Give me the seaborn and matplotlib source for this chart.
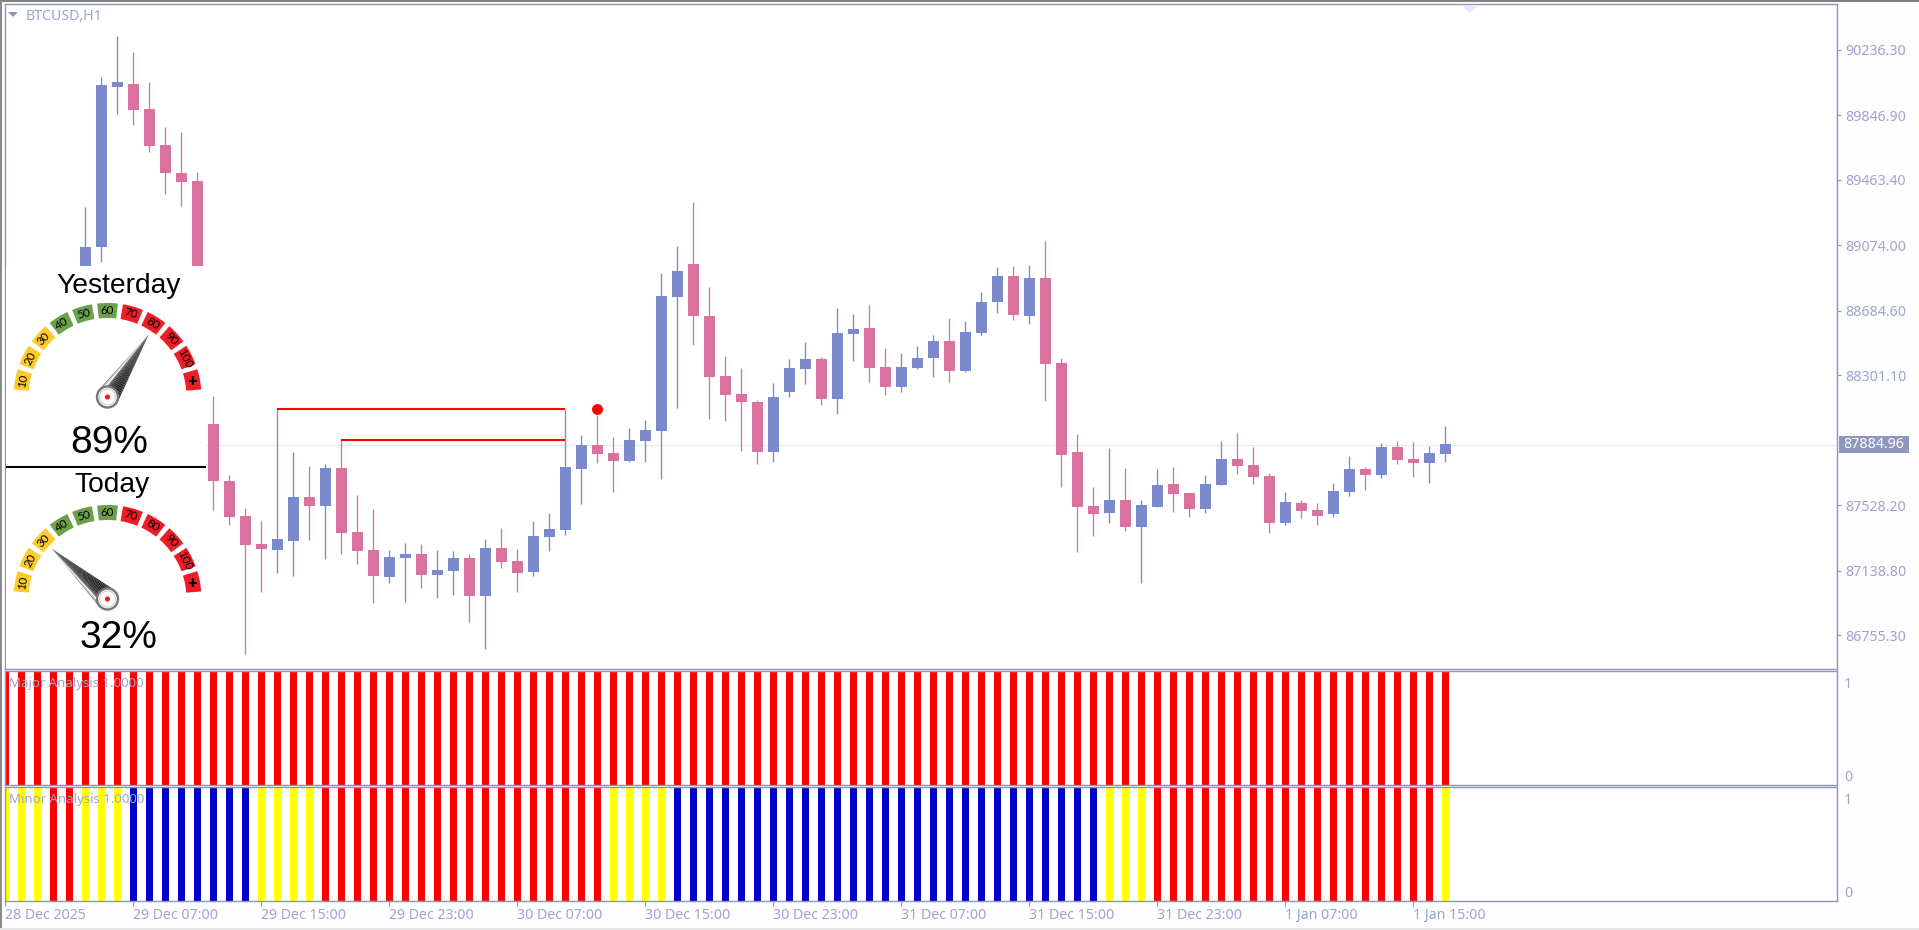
import numpy as np
import pandas as pd
import seaborn as sns
import matplotlib.pyplot as plt
from matplotlib.patches import Polygon, Circle, Rectangle

# Chart values (np.nan = hidden behind the gauge panel)
bar_index = list(range(91))
open_ = [87321, np.nan, np.nan, np.nan, np.nan, 88838, 89064, 90016, 90034, 89885,
         89671, 89505, 89457, 88011, 87672, 87464, 87297, 87261, 87315, 87577,
         87523, 87749, 87369, 87261, 87101, 87214, 87238, 87113, 87137, 87214,
         86988, 87273, 87196, 87131, 87339, 87380, 87743, 87886, 87839, 87791,
         87910, 87970, 88767, 88963, 88654, 88297, 88190, 88142, 87845, 88202,
         88338, 88398, 88160, 88547, 88582, 88350, 88231, 88344, 88404, 88505,
         88327, 88553, 88737, 88892, 88654, 88880, 88374, 87845, 87523, 87482,
         87559, 87398, 87517, 87654, 87601, 87505, 87648, 87803, 87767, 87702,
         87422, 87541, 87499, 87476, 87607, 87743, 87708, 87874, 87803, 87779,
         87833]
high = [87541, np.nan, np.nan, np.nan, np.nan, 89302, 90076, 90320, 90225, 90046,
        89778, 89749, 89511, 88178, 87708, 87511, 87434, 88100, 87845, 87761,
        87773, 87916, 87589, 87505, 87261, 87303, 87297, 87261, 87256, 87238,
        87327, 87392, 87267, 87434, 87482, 88100, 87946, 88065, 87934, 87987,
        88035, 88910, 89070, 89332, 88826, 88416, 88344, 88154, 88255, 88398,
        88499, 88410, 88701, 88666, 88719, 88463, 88434, 88475, 88541, 88642,
        88624, 88797, 88945, 88951, 88957, 89100, 88404, 87952, 87636, 87868,
        87749, 87559, 87743, 87755, 87601, 87708, 87910, 87958, 87874, 87720,
        87607, 87559, 87541, 87660, 87821, 87755, 87898, 87910, 87904, 87880,
        87999]
low = [87321, np.nan, np.nan, np.nan, np.nan, 88779, 88975, 89856, 89790, 89630,
       89380, 89308, 87975, 87499, 87410, 86643, 87012, 87125, 87107, 87321,
       87208, 87238, 87178, 86946, 87065, 86952, 87035, 86976, 86994, 86833,
       86672, 87154, 87012, 87107, 87256, 87351, 87535, 87779, 87607, 87785,
       87785, 87684, 88106, 88481, 88041, 88029, 87851, 87773, 87785, 88172,
       88249, 88124, 88071, 88386, 88261, 88184, 88202, 88338, 88291, 88261,
       88321, 88541, 88672, 88630, 88606, 88148, 87636, 87250, 87345, 87422,
       87375, 87065, 87517, 87488, 87458, 87482, 87648, 87714, 87654, 87363,
       87410, 87452, 87410, 87458, 87583, 87618, 87690, 87773, 87696, 87660,
       87785]
close = [87541, np.nan, np.nan, np.nan, np.nan, 89064, 90028, 90046, 89879, 89665,
         89505, 89451, 88011, 87672, 87458, 87291, 87267, 87327, 87577, 87523,
         87749, 87363, 87256, 87107, 87220, 87238, 87113, 87142, 87214, 86988,
         87273, 87190, 87125, 87345, 87386, 87755, 87886, 87833, 87791, 87916,
         87975, 88773, 88922, 88654, 88291, 88184, 88142, 87845, 88172, 88344,
         88398, 88160, 88553, 88576, 88344, 88231, 88350, 88404, 88505, 88327,
         88559, 88737, 88892, 88660, 88880, 88368, 87827, 87517, 87476, 87559,
         87398, 87529, 87648, 87595, 87505, 87654, 87803, 87761, 87696, 87422,
         87547, 87494, 87464, 87613, 87743, 87708, 87874, 87797, 87779, 87839,
         87892]

level_prices = [88100, 87916]
level_start = [17, 21]
level_end = 35
signal_bar = 37
signal_price = 88100
last_price = 87884.96

price_ticks = [90236.30, 89846.90, 89463.40, 89074.00, 88684.60, 88301.10,
               87528.20, 87138.80, 86755.30]
time_ticks = [0, 8, 16, 24, 32, 40, 48, 56, 64, 72, 80, 88]
time_labels = ['28 Dec 2025', '29 Dec 07:00', '29 Dec 15:00', '29 Dec 23:00',
               '30 Dec 07:00', '30 Dec 15:00', '30 Dec 23:00', '31 Dec 07:00',
               '31 Dec 15:00', '31 Dec 23:00', '1 Jan 07:00', '1 Jan 15:00']

major_state = ['red'] * 91
minor_state = (['yellow'] * 3 + ['red'] * 2 + ['yellow'] * 3 + ['blue'] * 8
               + ['yellow'] * 4 + ['red'] * 18 + ['yellow'] * 4 + ['blue'] * 27
               + ['yellow'] * 3 + ['red'] * 18 + ['yellow'])

gauge_labels = ['10', '20', '30', '40', '50', '60', '70', '80', '90', '100', '+']
gauge_titles = ['Yesterday', 'Today']
gauge_values = ['89%', '32%']
needle_angles = [56.6, 137.9]

W, H = 1919, 930
FRAME = '#8f95b8'
TEXT = '#9ca4d0'
UP = '#7b8acc'
DOWN = '#d9729f'
state_colors = {'red': '#ff0000', 'yellow': '#ffff00', 'blue': '#0000cc'}
seg_colors = ['#fdcb2e'] * 3 + ['#6da04b'] * 3 + ['#ee1c25'] * 5

sns.set_theme(style='white')
plt.rcParams['font.family'] = ['Noto Sans', 'DejaVu Sans']


def px_axes(fig, left, top, right, bottom):
    return fig.add_axes([left / W, 1 - bottom / H, (right - left) / W, (bottom - top) / H])


def style_frame(ax):
    for s in ax.spines.values():
        s.set_color(FRAME)
        s.set_linewidth(1.0)


fig = plt.figure(figsize=(W / 100, H / 100), dpi=100, facecolor='#fefefe')
ax = px_axes(fig, 4.5, 4.5, 1837, 668.5)
ax_major = px_axes(fig, 4.5, 671, 1837, 785)
ax_minor = px_axes(fig, 4.5, 787, 1837, 901)
xlim = (-0.05, 114.47)

# Candles
df = pd.DataFrame({'bar': bar_index, 'open': open_, 'high': high, 'low': low, 'close': close}).dropna()
df['body'] = (df['close'] - df['open']).abs()
df['body_low'] = df[['open', 'close']].min(axis=1)
df['up'] = df['close'] >= df['open']

ax.axhline(last_price, color='#e8e9f3', lw=0.9, zorder=0)
for is_up, color in [(True, UP), (False, DOWN)]:
    part = df[df['up'] == is_up]
    ax.vlines(part['bar'], part['low'], part['high'], color=color, lw=0.95, zorder=1)
    sns.barplot(data=part, x='bar', y='body', bottom=part['body_low'].values, native_scale=True,
                width=11 / 16, color=color, saturation=1, errorbar=None, linewidth=0,
                zorder=2, ax=ax)

for price, start in zip(level_prices, level_start):
    ax.hlines(price, start, level_end, color='#ff0000', lw=1.5, zorder=3)
sns.scatterplot(x=[signal_bar], y=[signal_price], color='#ff0000', s=62, linewidth=0, zorder=4, ax=ax)

ax.set_xlim(xlim)
ax.set_ylim(86556, 90507)
ax.set_xlabel('')
ax.set_ylabel('')
ax.set_xticks([])
ax.yaxis.tick_right()
ax.set_yticks(price_ticks)
ax.set_yticklabels([f'{p:.2f}' for p in price_ticks])
ax.tick_params(axis='y', length=3, width=0.8, color=FRAME, labelcolor=TEXT, labelsize=10.2, pad=3, right=True)
style_frame(ax)

# Indicator windows
for a, state, name in [(ax_major, major_state, 'Major Analysis 1.0000'),
                       (ax_minor, minor_state, 'Minor Analysis 1.0000')]:
    sns.barplot(x=bar_index, y=[1] * len(bar_index), hue=state, palette=state_colors, native_scale=True,
                dodge=False, width=7 / 16, saturation=1, errorbar=None, linewidth=0, legend=False, ax=a)
    a.set_xlim(xlim)
    a.set_ylim(0, 1)
    a.set_xlabel('')
    a.set_ylabel('')
    a.yaxis.tick_right()
    a.set_yticks([0.08, 0.9])
    a.set_yticklabels(['0', '1'])
    a.tick_params(axis='y', length=0, labelcolor=TEXT, labelsize=10.2, pad=5, right=False)
    a.text(4.5 / 1832, 0.886, name, transform=a.transAxes, color=TEXT, fontsize=9.5, ha='left', va='center', zorder=6)
    style_frame(a)
ax_major.set_xticks([])
ax_minor.set_xticks(time_ticks)
ax_minor.set_xticklabels(time_labels, ha='left')
ax_minor.tick_params(axis='x', length=3.5, width=0.8, color=FRAME, labelcolor=TEXT, labelsize=10.2, pad=1.5, bottom=True)

# Overlay in screen pixels: window edge, title, gauge panel
hud = fig.add_axes([0, 0, 1, 1], facecolor='none', zorder=10)
hud.set_xlim(0, W)
hud.set_ylim(H, 0)
hud.axis('off')

hud.add_patch(Rectangle((0, 0), W, 2, color='#808080', lw=0))
hud.add_patch(Rectangle((0, 0), 2, H, color='#8a8a8a', lw=0))
hud.add_patch(Rectangle((0, 928), W, 2, color='#e6e6e6', lw=0))
hud.add_patch(Polygon([(1462, 5.5), (1478, 5.5), (1470, 13)], color='#e6e8f8', lw=0))
hud.add_patch(Polygon([(8, 12), (18, 12), (13, 17)], color='#8f95b8', lw=0))
hud.text(26, 16.5, 'BTCUSD,H1', color=TEXT, fontsize=10.2, ha='left', va='center')

hud.add_patch(Rectangle((1839, 436), 70, 17, color='#8f97bd', lw=0))
hud.text(1874, 444.5, f'{last_price:.2f}', color='white', fontsize=10.2, ha='center', va='center')

hud.add_patch(Rectangle((6, 266), 200, 402, color='white', lw=0))
hud.plot([6, 206], [466.7, 466.7], color='black', lw=1.5, solid_capstyle='butt')


def draw_gauge(cy, needle_angle):
    cx = 107.5
    step = 174 / 11
    for k, label in enumerate(gauge_labels):
        mid = 177 - (k + 0.5) * step
        a = np.radians(np.linspace(mid - step / 2 + 1.6, mid + step / 2 - 1.6, 12))
        outer = np.c_[cx + 94 * np.cos(a), cy - 94 * np.sin(a)]
        inner = np.c_[cx + 79 * np.cos(a), cy - 79 * np.sin(a)][::-1]
        hud.add_patch(Polygon(np.r_[outer, inner], color=seg_colors[k], lw=0))
        m = np.radians(mid)
        is_plus = label == '+'
        hud.text(cx + 86.5 * np.cos(m), cy - 86.5 * np.sin(m), label, rotation=0 if is_plus else mid - 90,
                 rotation_mode='anchor', ha='center', va='center', color='black',
                 fontsize=12 if is_plus else 8.3, fontweight='heavy' if is_plus else 'normal',
                 family=['Lato', 'DejaVu Sans'])
    # Needle as strips across its width, lighter on the left edge
    t = np.radians(needle_angle)
    d = np.array([np.cos(t), -np.sin(t)])
    n = np.array([-np.sin(t), -np.cos(t)])
    c = np.array([cx, cy])
    tip = c + 75 * d
    edges = np.linspace(1, -1, 17)
    shades = ['#8a8a8a', '#c8c8c8', '#ffffff', '#777777', '#4a4a4a', '#383838', '#2c2c2c', '#242424',
              '#1e1e1e', '#1a1a1a', '#161616', '#141414', '#141414', '#161616', '#1c1c1c', '#303030']
    for e0, e1, col in zip(edges[:-1], edges[1:], shades):
        hud.add_patch(Polygon([c + 11.5 * e0 * n, c + 11.5 * e1 * n, tip], color=col, lw=0))
    hud.add_patch(Circle((cx, cy), 10.5, facecolor='white', edgecolor='#777777', lw=1.7))
    hud.add_patch(Circle((cx, cy), 8, facecolor='none', edgecolor='#d0d0d0', lw=0.8))
    hud.add_patch(Circle((cx, cy), 2.6, color='#ee1c25', lw=0))


draw_gauge(397, needle_angles[0])
draw_gauge(599, needle_angles[1])

hud.set_aspect('auto')
for txt, x, y, size in [(gauge_titles[0], 119, 292.7, 20.3), (gauge_titles[1], 112, 492.3, 20.3),
                        (gauge_values[0], 109, 452.7, 28), (gauge_values[1], 118.5, 647.7, 28)]:
    hud.text(x, y, txt, color='black', fontsize=size, ha='center', va='baseline',
             family=['Liberation Sans', 'DejaVu Sans'])

plt.savefig('out.png', dpi=100, facecolor=fig.get_facecolor())
